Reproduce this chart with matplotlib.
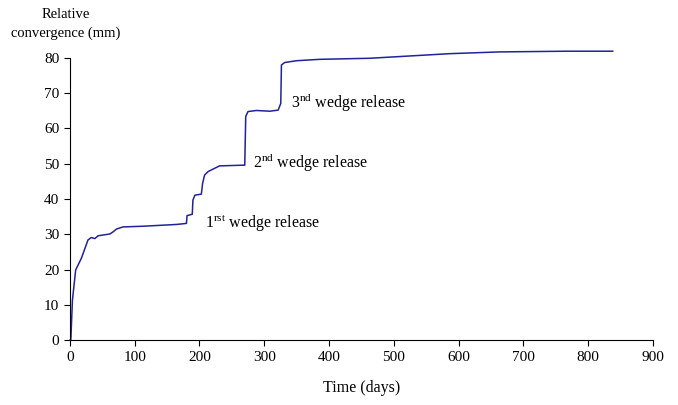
import matplotlib
matplotlib.use("Agg")
import matplotlib.pyplot as plt

# Convergence curve (days, mm)
days = [0, 1.5, 4, 9, 18, 28, 33, 38.6, 43.7, 61.7, 66.8, 72, 82, 113, 164.6,
        180, 180.9, 189, 190, 193, 203, 205, 208, 213.5, 231, 267, 270,
        271.5, 275, 288, 308.6, 321.5, 325.6, 326.6, 331.7, 349.7, 385.8,
        463, 520, 586, 663, 766, 838]
convergence = [0, 0, 11.3, 19.9, 23.3, 28.4, 29.1, 28.8, 29.6, 30.1, 30.7,
               31.5, 32.1, 32.3, 32.8, 33.1, 35.3, 35.7, 39.7, 41.1, 41.4,
               44.5, 46.8, 47.8, 49.4, 49.6, 49.6, 63.4, 64.8, 65.1, 64.9,
               65.2, 67.1, 78.0, 78.7, 79.2, 79.6, 79.9, 80.5, 81.2, 81.7,
               81.9, 81.9]

# Annotation labels and their positions (days, mm)
labels = [r"1$^{\mathrm{rst}}$ wedge release",
          r"2$^{\mathrm{nd}}$ wedge release",
          r"3$^{\mathrm{nd}}$ wedge release"]
label_x = [208, 282, 342]
label_y = [33.0, 50.3, 67.3]

xticks = list(range(0, 901, 100))
yticks = list(range(0, 81, 10))

plt.rcParams["font.family"] = "Liberation Serif"
plt.rcParams["mathtext.fontset"] = "custom"
plt.rcParams["mathtext.rm"] = "Liberation Serif"
plt.rcParams["font.size"] = 11

fig = plt.figure(figsize=(6.78, 4.05), dpi=100)
ax = fig.add_axes([0.103, 0.160, 0.860, 0.697])

ax.plot(days, convergence, color="#22229a", linewidth=1.1, clip_on=False)

for txt, lx, ly in zip(labels, label_x, label_y):
    ax.text(lx, ly, txt, ha="left", va="center", fontsize=11.5)

ax.set_xlim(0, 900)
ax.set_ylim(0, 80)
ax.set_xticks(xticks)
ax.set_yticks(yticks)
ax.spines["top"].set_visible(False)
ax.spines["right"].set_visible(False)
ax.tick_params(direction="out", length=4, width=0.8, labelsize=11)
ax.set_xlabel("Time (days)", fontsize=11.5, labelpad=12)

fig.text(0.097, 0.963, "Relative", ha="center", va="center", fontsize=10.5)
fig.text(0.097, 0.919, "convergence (mm)", ha="center", va="center", fontsize=10.5)

fig.savefig("out.png", dpi=100)
